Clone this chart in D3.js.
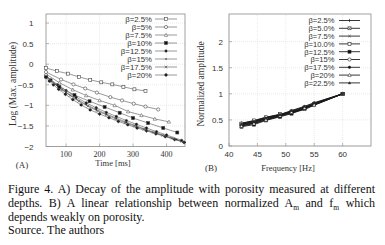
<!DOCTYPE html>
<html>
<head>
<meta charset="utf-8">
<script src="https://d3js.org/d3.v7.min.js"></script>
<style>
  body { margin: 0; background: #fff; }
  svg { display: block; }
</style>
</head>
<body>
<div id="fig"></div>
<script>
// ---- panel A: log of max amplitude vs time, one array pair per porosity ----
var seriesA = ["β=2.5%", "β=5%", "β=7.5%", "β=10%", "β=12.5%", "β=15%", "β=17.5%", "β=20%"];
var timeA25 = [40, 73, 106, 139, 172, 205, 238, 271, 304, 337];
var ampA25  = [-0.09, -0.17, -0.23, -0.31, -0.38, -0.44, -0.49, -0.55, -0.61, -0.65];
var timeA5  = [40, 85, 122, 157, 192, 232, 267, 302, 337, 375];
var ampA5   = [-0.19, -0.37, -0.49, -0.59, -0.69, -0.80, -0.88, -0.96, -1.03, -1.10];
var timeA75 = [40, 80, 120, 160, 200, 245, 285, 325, 365, 407];
var ampA75  = [-0.24, -0.45, -0.62, -0.76, -0.88, -1.0, -1.15, -1.24, -1.33, -1.40];
var timeA10 = [40, 80, 125, 170, 215, 260, 300, 345, 390, 432];
var ampA10  = [-0.3, -0.55, -0.75, -0.9, -1.04, -1.18, -1.31, -1.43, -1.55, -1.66];
var timeA125 = [40, 55, 75, 100, 130, 160, 190, 220, 250, 280, 310, 340, 370, 400, 445];
var ampA125  = [-0.28, -0.38, -0.5, -0.64, -0.8, -0.94, -1.06, -1.17, -1.27, -1.37, -1.46, -1.55, -1.64, -1.72, -1.85];
var timeA15 = [40, 55, 75, 100, 130, 160, 190, 220, 250, 280, 310, 340, 370, 400, 430, 455];
var ampA15  = [-0.3, -0.42, -0.54, -0.68, -0.84, -0.98, -1.1, -1.21, -1.31, -1.41, -1.5, -1.59, -1.67, -1.75, -1.83, -1.9];
var timeA175 = [40, 52, 68, 88, 112, 138, 165, 192, 220, 248, 276, 304, 332, 360, 388, 416, 445];
var ampA175  = [-0.27, -0.37, -0.49, -0.62, -0.76, -0.9, -1.02, -1.13, -1.23, -1.33, -1.42, -1.5, -1.58, -1.66, -1.73, -1.8, -1.88];
var timeA20 = [40, 50, 62, 78, 98, 120, 145, 172, 200, 228, 256, 284, 312, 340, 368, 396, 424, 452];
var ampA20  = [-0.32, -0.41, -0.5, -0.61, -0.73, -0.86, -0.99, -1.11, -1.21, -1.3, -1.39, -1.47, -1.55, -1.62, -1.69, -1.76, -1.83, -1.9];
var timesA = [timeA25, timeA5, timeA75, timeA10, timeA125, timeA15, timeA175, timeA20];
var ampsA  = [ampA25, ampA5, ampA75, ampA10, ampA125, ampA15, ampA175, ampA20];
var markA  = ["osq", "ocirc", "otri", "fsq", "fcirc", "dot", "cross", "star"];
var ticksAx = [100, 200, 300, 400];
var ticksAy = [-2, -1.5, -1, -0.5, 0, 0.5, 1];

// ---- panel B: normalized amplitude vs frequency ----
var seriesB = ["β=2.5%", "β=5.0%", "β=7.5%", "β=10.0%", "β=12.5%", "β=15%", "β=17.5%", "β=20%", "β=22.5%"];
var freqB = [42.2, 44.4, 46.5, 49, 51, 53.3, 55, 60];
var normB25  = [0.44, 0.48, 0.55, 0.60, 0.65, 0.72, 0.80, 1];
var normB5   = [0.42, 0.47, 0.53, 0.59, 0.64, 0.71, 0.79, 1];
var normB75  = [0.40, 0.45, 0.52, 0.58, 0.63, 0.70, 0.78, 1];
var normB10  = [0.43, 0.49, 0.55, 0.61, 0.66, 0.74, 0.81, 1];
var normB125 = [0.37, 0.41, 0.49, 0.56, 0.62, 0.72, 0.80, 1];
var normB15  = [0.41, 0.46, 0.52, 0.60, 0.67, 0.75, 0.82, 1];
var normB175 = [0.39, 0.44, 0.50, 0.57, 0.64, 0.73, 0.80, 1];
var normB20  = [0.38, 0.43, 0.50, 0.58, 0.65, 0.73, 0.79, 1];
var normB225 = [0.42, 0.47, 0.54, 0.60, 0.68, 0.76, 0.83, 1];
var normsB = [normB25, normB5, normB75, normB10, normB125, normB15, normB175, normB20, normB225];
var markB  = ["plus", "xbox", "cross", "osq", "fsq", "ocirc", "fcirc", "otri", "smalltri"];
var ticksBx = [40, 45, 50, 55, 60];
var ticksBy = [0, 0.5, 1, 1.5, 2];

var W = 385, H = 245;
var svg = d3.select("#fig").append("svg").attr("width", W).attr("height", H);
svg.append("rect").attr("width", W).attr("height", H).attr("fill", "#fff");

var xA = d3.scaleLinear().domain([40, 455]).range([46, 185]);
var yA = d3.scaleLinear().domain([-2, 1.22]).range([146.5, 14]);
var xB = d3.scaleLinear().domain([40, 65]).range([229, 371]);
var yB = d3.scaleLinear().domain([0, 2.53]).range([146, 14]);

var sans = "'Liberation Sans', Arial, sans-serif";
var serif = "'Liberation Serif', 'Times New Roman', serif";

function marker(g, type, x, y, col) {
  var s = 1.5;
  if (type == "osq" || type == "fsq") {
    g.append("rect").attr("x", x - s).attr("y", y - s).attr("width", 2 * s).attr("height", 2 * s)
      .attr("fill", type == "fsq" ? "#111" : "#fff").attr("stroke", col).attr("stroke-width", 0.6);
  } else if (type == "ocirc" || type == "fcirc") {
    g.append("circle").attr("cx", x).attr("cy", y).attr("r", type == "fcirc" ? 1.2 : 1.6)
      .attr("fill", type == "fcirc" ? "#111" : "#fff").attr("stroke", col).attr("stroke-width", 0.6);
  } else if (type == "otri" || type == "smalltri") {
    var r = type == "otri" ? 1.7 : 1.2;
    g.append("path").attr("d", "M" + x + "," + (y - r) + "L" + (x + r) + "," + (y + r * 0.8) + "L" + (x - r) + "," + (y + r * 0.8) + "Z")
      .attr("fill", type == "otri" ? "#fff" : "#222").attr("stroke", col).attr("stroke-width", 0.5);
  } else if (type == "dot") {
    g.append("circle").attr("cx", x).attr("cy", y).attr("r", 0.8).attr("fill", "#222");
  } else if (type == "cross") {
    g.append("path").attr("d", "M" + (x - 1.3) + "," + (y - 1.3) + "L" + (x + 1.3) + "," + (y + 1.3) + "M" + (x - 1.3) + "," + (y + 1.3) + "L" + (x + 1.3) + "," + (y - 1.3))
      .attr("stroke", "#444").attr("stroke-width", 0.6);
  } else if (type == "star") {
    g.append("circle").attr("cx", x).attr("cy", y).attr("r", 1.4).attr("fill", "#222");
    g.append("path").attr("d", "M" + (x - 1.9) + "," + y + "L" + (x + 1.9) + "," + y + "M" + x + "," + (y - 1.9) + "L" + x + "," + (y + 1.9))
      .attr("stroke", "#222").attr("stroke-width", 0.5);
  } else if (type == "plus") {
    g.append("path").attr("d", "M" + x + "," + (y - 1.6) + "L" + x + "," + (y + 1.6))
      .attr("stroke", "#222").attr("stroke-width", 0.7);
  } else if (type == "xbox") {
    g.append("rect").attr("x", x - 1.5).attr("y", y - 1.5).attr("width", 3).attr("height", 3)
      .attr("fill", "#fff").attr("stroke", "#222").attr("stroke-width", 0.5);
    g.append("path").attr("d", "M" + (x - 1.5) + "," + (y - 1.5) + "L" + (x + 1.5) + "," + (y + 1.5) + "M" + (x - 1.5) + "," + (y + 1.5) + "L" + (x + 1.5) + "," + (y - 1.5))
      .attr("stroke", "#222").attr("stroke-width", 0.5);
  }
}

function frame(x, y, ticksX, ticksY, gapY, xFont) {
  var g = svg.append("g");
  var x0 = x.range()[0], x1 = x.range()[1], y0 = y.range()[0], y1 = y.range()[1];
  // grid
  g.selectAll(".gx").data(ticksX).enter().append("line")
    .attr("x1", function(d) { return x(d); }).attr("x2", function(d) { return x(d); })
    .attr("y1", y0).attr("y2", y1).attr("stroke", "#dcdcdc").attr("stroke-width", 0.6).attr("stroke-dasharray", "1,1");
  g.selectAll(".gy").data(ticksY).enter().append("line")
    .attr("y1", function(d) { return y(d); }).attr("y2", function(d) { return y(d); })
    .attr("x1", x0).attr("x2", x1).attr("stroke", "#dcdcdc").attr("stroke-width", 0.6).attr("stroke-dasharray", "1,1");
  g.append("rect").attr("x", x0).attr("y", y1).attr("width", x1 - x0).attr("height", y0 - y1)
    .attr("fill", "none").attr("stroke", "#8a8a8a").attr("stroke-width", 0.8);
  // tick marks inside
  g.selectAll(".tx").data(ticksX).enter().append("line")
    .attr("x1", function(d) { return x(d); }).attr("x2", function(d) { return x(d); })
    .attr("y1", y0).attr("y2", y0 - 3).attr("stroke", "#8a8a8a").attr("stroke-width", 0.6);
  g.selectAll(".ty").data(ticksY).enter().append("line")
    .attr("y1", function(d) { return y(d); }).attr("y2", function(d) { return y(d); })
    .attr("x1", x0).attr("x2", x0 + 3).attr("stroke", "#8a8a8a").attr("stroke-width", 0.6);
  g.selectAll(".lx").data(ticksX).enter().append("text")
    .attr("x", function(d) { return x(d); }).attr("y", 156.5)
    .attr("text-anchor", "middle").attr("font-family", xFont).attr("font-size", 8).attr("fill", "#333")
    .text(function(d) { return d; });
  g.selectAll(".ly").data(ticksY).enter().append("text")
    .attr("x", x0 - gapY).attr("y", function(d) { return y(d) + 3; })
    .attr("text-anchor", "end").attr("font-family", sans).attr("font-size", 8).attr("fill", "#333")
    .text(function(d) { return d < 0 ? "\u2212" + (-d) : d; });
}

frame(xA, yA, ticksAx, ticksAy, 12.5, serif);
frame(xB, yB, ticksBx, ticksBy, 6, sans);

// panel A curves
var lineA = d3.line().x(function(d) { return xA(d[0]); }).y(function(d) { return yA(d[1]); });
var gA = svg.append("g");
for (var i = ampsA.length - 1; i >= 0; i--) {
  var pts = d3.zip(timesA[i], ampsA[i]);
  gA.append("path").attr("d", lineA(pts)).attr("fill", "none").attr("stroke", "#555").attr("stroke-width", 0.6);
  pts.forEach(function(p) { marker(gA, markA[i], xA(p[0]), yA(p[1]), "#444"); });
}
// legend A
var legA = svg.append("g");
seriesA.forEach(function(s, i) {
  var ly = 19 + i * 8;
  legA.append("text").attr("x", 152).attr("y", ly + 2.8).attr("text-anchor", "end")
    .attr("font-family", sans).attr("font-size", 7.8).attr("fill", "#333").text(s);
  legA.append("line").attr("x1", 155).attr("x2", 177).attr("y1", ly).attr("y2", ly).attr("stroke", "#555").attr("stroke-width", 0.6);
  marker(legA, markA[i], 166, ly, "#444");
});

// panel B curves
var lineB = d3.line().x(function(d) { return xB(d[0]); }).y(function(d) { return yB(d[1]); });
var gB = svg.append("g");
normsB.forEach(function(vals, i) {
  var pts = d3.zip(freqB, vals);
  gB.append("path").attr("d", lineB(pts)).attr("fill", "none").attr("stroke", "#1a1a1a").attr("stroke-width", 0.9);
  pts.forEach(function(p) { marker(gB, markB[i], xB(p[0]), yB(p[1]), "#222"); });
});
var legB = svg.append("g");
seriesB.forEach(function(s, i) {
  var ly = 20.5 + i * 7.8;
  legB.append("text").attr("x", 334.5).attr("y", ly + 2.8).attr("text-anchor", "end")
    .attr("font-family", sans).attr("font-size", 7.6).attr("fill", "#333").text(s);
  legB.append("line").attr("x1", 339).attr("x2", 360).attr("y1", ly).attr("y2", ly).attr("stroke", "#222").attr("stroke-width", 0.9);
  marker(legB, markB[i], 349.5, ly, "#222");
});

// axis titles
svg.append("text").attr("transform", "translate(16,84) rotate(-90)").attr("text-anchor", "middle")
  .attr("font-family", serif).attr("font-size", 9.5).attr("fill", "#333").text("Log (Max. amplitude)");
svg.append("text").attr("transform", "translate(204,84) rotate(-90)").attr("text-anchor", "middle")
  .attr("font-family", serif).attr("font-size", 9.5).attr("fill", "#333").text("Normalized amplitude");
svg.append("text").attr("x", 113).attr("y", 166).attr("text-anchor", "middle")
  .attr("font-family", serif).attr("font-size", 8.5).attr("fill", "#333").text("Time [ms]");
svg.append("text").attr("x", 22).attr("y", 168).attr("text-anchor", "middle")
  .attr("font-family", serif).attr("font-size", 9).attr("fill", "#333").text("(A)");
svg.append("text").attr("x", 288).attr("y", 171).attr("text-anchor", "middle")
  .attr("font-family", serif).attr("font-size", 8.5).attr("fill", "#333").text("Frequency [Hz]");
svg.append("text").attr("x", 211).attr("y", 171).attr("text-anchor", "middle")
  .attr("font-family", serif).attr("font-size", 9).attr("fill", "#333").text("(B)");

// caption, justified lines
var capLines = [
  [["Figure 4. A) Decay of the amplitude with porosity measured at different"]],
  [["depths. B) A linear relationship between normalized A"], ["m", "sub"], [" and f"], ["m", "sub"], [" which"]],
  [["depends weakly on porosity."]],
  [["Source. The authors"]]
];
var capY = [193.3, 207.2, 220.8, 234];
capLines.forEach(function(parts, i) {
  var t = svg.append("text").attr("x", 8).attr("y", capY[i])
    .attr("font-family", serif).attr("font-size", 12).attr("fill", "#111");
  parts.forEach(function(p) {
    var ts = t.append("tspan").text(p[0]);
    if (p[1] == "sub") ts.attr("font-size", 7.5).attr("dy", 2.5);
    else if (t.selectAll("tspan").size() > 1) ts.attr("dy", -2.5);
  });
  if (i < 2) {
    var natural = t.node().getComputedTextLength();
    var txt = parts.map(function(p) { return p[0]; }).join("");
    var gaps = txt.split(" ").length - 1;
    t.style("word-spacing", ((375 - 8 - natural) / gaps) + "px");
  }
});
</script>
</body>
</html>
